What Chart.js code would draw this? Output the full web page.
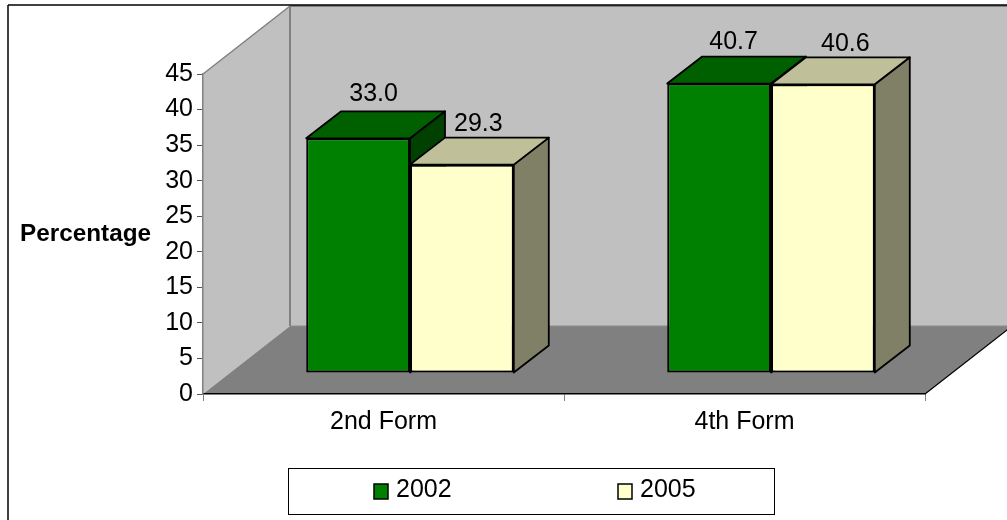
<!DOCTYPE html>
<html>
<head>
<meta charset="utf-8">
<style>
  html, body { margin: 0; padding: 0; background: #fff; }
  canvas { display: block; }
</style>
<script src="https://cdn.jsdelivr.net/npm/chart.js@4/dist/chart.umd.min.js"></script>
</head>
<body>
<canvas id="formChart" width="1007" height="520"></canvas>
<script>
const categories = ['2nd Form', '4th Form'];
const series2002 = [33.0, 40.7];
const series2005 = [29.3, 40.6];
const yTicks = [0, 5, 10, 15, 20, 25, 30, 35, 40, 45];

// 3D look: room depth, bar depth, and how far bars stand in from the front edge
const roomDepth = { x: 87, y: -68 };
const barDepth = { x: 35, y: -27 };
const barShift = { x: 26.5, y: -21 };

const faceColors = [
  { top: '#006000', side: '#004000' },
  { top: '#BFBF99', side: '#808066' }
];
// nudges for the value labels, per dataset then per category
const labelNudge = [[[-2, -3], [-3, 0]], [[-1, 0], [5, 1]]];

const FONT = '"Liberation Sans", Arial, sans-serif';

const drawText = (ctx, text, x, y, align = 'center', font = '25px ') => {
  ctx.save();
  ctx.font = font + FONT;
  ctx.fillStyle = '#000';
  ctx.textAlign = align;
  ctx.textBaseline = 'middle';
  ctx.fillText(text, x, y);
  ctx.restore();
};

const polygon = (ctx, points, fill, stroke, lineWidth) => {
  ctx.beginPath();
  points.forEach((p, i) => i ? ctx.lineTo(p[0], p[1]) : ctx.moveTo(p[0], p[1]));
  ctx.closePath();
  if (fill) {
    ctx.fillStyle = fill;
    ctx.fill();
  }
  if (stroke) {
    ctx.strokeStyle = stroke;
    ctx.lineWidth = lineWidth;
    ctx.lineJoin = 'round';
    ctx.stroke();
  }
};

const line = (ctx, x1, y1, x2, y2, color, width) => {
  ctx.beginPath();
  ctx.moveTo(x1, y1);
  ctx.lineTo(x2, y2);
  ctx.strokeStyle = color;
  ctx.lineWidth = width;
  ctx.stroke();
};

const room3d = {
  id: 'room3d',
  afterDatasetsUpdate(chart) {
    // move the bars off the front edge of the floor
    chart.data.datasets.forEach((ds, i) => {
      chart.getDatasetMeta(i).data.forEach(bar => {
        bar.x += barShift.x;
        bar.y += barShift.y;
        bar.base += barShift.y;
      });
    });
  },
  beforeDraw(chart) {
    const ctx = chart.ctx;
    const { left, right, top, bottom } = chart.chartArea;
    const dx = roomDepth.x;
    const dy = roomDepth.y;

    ctx.save();
    // back wall, side wall, floor
    polygon(ctx, [[left + dx, top + dy], [right + dx, top + dy], [right + dx, bottom + dy], [left + dx, bottom + dy]], '#C0C0C0');
    polygon(ctx, [[left, top], [left + dx, top + dy], [left + dx, bottom + dy], [left, bottom]], '#C0C0C0');
    polygon(ctx, [[left, bottom], [right, bottom], [right + dx, bottom + dy], [left + dx, bottom + dy]], '#808080');
    line(ctx, left, top, left + dx, top + dy, '#808080', 1.5);
    line(ctx, left + dx, top + dy, left + dx, bottom + dy, '#808080', 2);
    line(ctx, left + dx, top + dy, right + dx, top + dy, '#808080', 2);
    line(ctx, left + dx, bottom + dy, right + dx, bottom + dy, '#8c8c8c', 1);
    line(ctx, right, bottom, right + dx, bottom + dy, '#000', 1.2);

    // outer frame, only top and left show
    line(ctx, 8, 5, 1007, 5, '#000', 1.5);
    line(ctx, 8, 5, 8, 520, '#000', 1.5);
    ctx.restore();
  },
  beforeDatasetsDraw(chart) {
    const ctx = chart.ctx;
    const dx = barDepth.x;
    const dy = barDepth.y;
    ctx.save();
    chart.data.datasets.forEach((ds, i) => {
      chart.getDatasetMeta(i).data.forEach(bar => {
        const l = bar.x - bar.width / 2;
        const r = bar.x + bar.width / 2;
        polygon(ctx, [[r, bar.y], [r + dx, bar.y + dy], [r + dx, bar.base + dy], [r, bar.base]], faceColors[i].side, '#000', 1.8);
        polygon(ctx, [[l, bar.y], [l + dx, bar.y + dy], [r + dx, bar.y + dy], [r, bar.y]], faceColors[i].top, '#000', 1.8);
      });
    });
    ctx.restore();
  },
  afterDraw(chart) {
    const ctx = chart.ctx;

    drawText(ctx, 'Percentage', 85.5, 234, 'center', 'bold 24.3px ');

    // value labels sit above the back edge of each bar top
    chart.data.datasets.forEach((ds, i) => {
      chart.getDatasetMeta(i).data.forEach((bar, j) => {
        const nudge = labelNudge[i][j];
        drawText(ctx, ds.data[j].toFixed(1), bar.x + barDepth.x / 2 + nudge[0], bar.y + barDepth.y - 14 + nudge[1]);
      });
    });

    // legend box
    ctx.save();
    ctx.strokeStyle = '#000';
    ctx.lineWidth = 1;
    ctx.strokeRect(288.5, 468.5, 486, 46);
    const swatchX = [374, 618];
    chart.data.datasets.forEach((ds, i) => {
      ctx.fillStyle = ds.backgroundColor;
      ctx.fillRect(swatchX[i], 484, 14, 15);
      ctx.lineWidth = 1.5;
      ctx.strokeRect(swatchX[i], 484, 14, 15);
      drawText(ctx, ds.label, swatchX[i] + 22, 490, 'left');
    });
    ctx.restore();
  }
};

new Chart(document.getElementById('formChart'), {
  type: 'bar',
  data: {
    labels: categories,
    datasets: [
      { label: '2002', data: series2002, backgroundColor: '#008000' },
      { label: '2005', data: series2005, backgroundColor: '#FFFFCC' }
    ]
  },
  options: {
    responsive: false,
    animation: false,
    layout: { padding: { left: 143, right: 82, top: 74, bottom: 76 } },
    font: { family: FONT },
    datasets: {
      bar: {
        categoryPercentage: 0.575,
        barPercentage: 1,
        borderColor: '#000',
        borderWidth: 2,
        borderSkipped: false
      }
    },
    plugins: {
      legend: { display: false },
      tooltip: { enabled: false }
    },
    scales: {
      x: {
        afterFit(scale) { scale.height = 50; },
        ticks: { color: '#000', font: { size: 25 }, padding: 6, maxRotation: 0 },
        border: { color: '#000', width: 1.5 },
        grid: { drawOnChartArea: false, color: '#808080', tickLength: 7 }
      },
      y: {
        min: 0,
        max: 45,
        afterFit(scale) { scale.width = 60; },
        afterBuildTicks(scale) { scale.ticks = yTicks.map(value => ({ value })); },
        ticks: { color: '#000', font: { size: 25 }, padding: 4 },
        border: { color: '#808080', width: 1.5 },
        grid: { drawOnChartArea: false, color: '#555', tickLength: 6 }
      }
    }
  },
  plugins: [room3d]
});
</script>
</body>
</html>
